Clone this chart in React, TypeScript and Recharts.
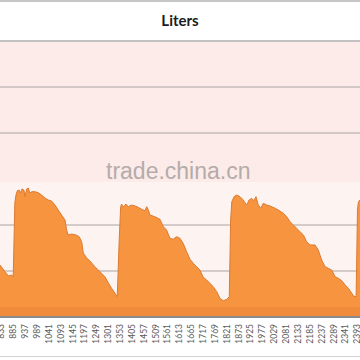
import { AreaChart, Area, XAxis, YAxis, CartesianGrid, ReferenceArea } from "recharts";

// sample number along the x axis and the tank level
const sampleIdx = [
  827, 849, 864, 878, 885, 892, 897, 903, 911, 917,
  923, 932, 936, 944, 951, 958, 966, 980, 995, 1009,
  1024, 1038, 1053, 1068, 1082, 1097, 1112, 1119, 1126, 1141,
  1160, 1174, 1185, 1192, 1207, 1221, 1243, 1265, 1287, 1303,
  1316, 1331, 1341, 1350, 1356, 1360, 1367, 1379, 1389, 1404,
  1419, 1433, 1448, 1462, 1470, 1477, 1484, 1506, 1528, 1543,
  1557, 1572, 1586, 1601, 1616, 1630, 1645, 1660, 1674, 1689,
  1703, 1718, 1733, 1747, 1762, 1777, 1791, 1806, 1821, 1832,
  1838, 1843, 1853, 1864, 1879, 1893, 1908, 1919, 1930, 1940,
  1949, 1959, 1970, 1981, 1996, 2011, 2033, 2047, 2069, 2084,
  2098, 2113, 2127, 2142, 2157, 2171, 2186, 2208, 2222, 2237,
  2252, 2266, 2281, 2296, 2310, 2325, 2340, 2354, 2369, 2376,
  2388, 2394, 2398, 2405,
];

const liters = [
  565, 492, 446, 457, 435, 1239, 1326, 1373, 1380, 1348,
  1391, 1380, 1308, 1391, 1402, 1348, 1362, 1362, 1351, 1326,
  1294, 1272, 1261, 1217, 1163, 1109, 1054, 946, 891, 902,
  891, 873, 819, 696, 641, 609, 547, 492, 438, 366,
  312, 258, 221, 873, 1199, 1228, 1192, 1228, 1199, 1217,
  1207, 1192, 1171, 1155, 1199, 1163, 1109, 1090, 1062, 982,
  946, 855, 845, 873, 855, 801, 710, 627, 584, 547,
  511, 432, 402, 366, 329, 275, 203, 177, 192, 221,
  1054, 1253, 1308, 1326, 1308, 1272, 1217, 1272, 1290, 1264,
  1308, 1217, 1182, 1236, 1217, 1207, 1182, 1163, 1127, 1090,
  1036, 1000, 964, 927, 891, 819, 783, 783, 728, 620,
  547, 529, 511, 438, 421, 395, 348, 312, 258, 228,
  221, 1163, 1253, 1272,
];

const xTicks = [
  833, 885, 937, 989, 1041, 1093, 1145, 1197, 1249, 1301, 1353,
  1405, 1457, 1509, 1561, 1613, 1665, 1717, 1769, 1821, 1873,
  1925, 1977, 2029, 2081, 2133, 2185, 2237, 2289, 2341, 2393,
];

const yTicks = [0, 500, 1000, 2000, 2500, 3000];

const data = sampleIdx.map((idx, i) => ({ idx, liters: liters[i] }));

function XTick({ x, y, payload }: { x?: number; y?: number; payload?: { value: number } }) {
  return (
    <text
      x={0}
      y={0}
      transform={`translate(${(x ?? 0) + 3},${(y ?? 0) - 1}) rotate(-90)`}
      textAnchor="end"
      fontSize={8.5}
      fontFamily="Lato, 'Open Sans', sans-serif"
      fill="#5a5a5a"
    >
      {payload?.value}
    </text>
  );
}

export default function App() {
  return (
    <div
      style={{
        position: "absolute",
        top: 0,
        left: 0,
        width: 360,
        height: 360,
        overflow: "hidden",
        background: "#fff",
      }}
    >
      <AreaChart width={360} height={360} data={data} margin={{ top: 41, right: 0, bottom: 0, left: 0 }}>
        <defs>
          <linearGradient id="plotBg" x1="0" y1="0" x2="0" y2="1">
            <stop offset="0%" stopColor="#fcebe8" />
            <stop offset="51%" stopColor="#fcebe8" />
            <stop offset="51%" stopColor="#fdf3f1" />
            <stop offset="100%" stopColor="#fdf3f1" />
          </linearGradient>
        </defs>
        <CartesianGrid vertical={false} stroke="#a8a4a4" fill="url(#plotBg)" />
        <XAxis
          dataKey="idx"
          type="number"
          domain={[827, 2405]}
          ticks={xTicks}
          interval={0}
          allowDataOverflow
          height={43}
          tickLine={false}
          axisLine={{ stroke: "#8c8c8c", strokeWidth: 2 }}
          tick={<XTick />}
        />
        <YAxis hide domain={[0, 3000]} ticks={yTicks} />
        <Area
          type="linear"
          dataKey="liters"
          stroke="#dc7b32"
          strokeWidth={1}
          fill="#f6943f"
          fillOpacity={1}
          isAnimationActive={false}
        />
        <ReferenceArea y1={0} y2={110} fill="#f08b3b" fillOpacity={1} stroke="none" />
      </AreaChart>

      <div style={{ position: "absolute", top: 0, left: 0, width: 360, height: 2, background: "#c6c6c6" }} />
      <div
        style={{
          position: "absolute",
          top: 2,
          left: 0,
          width: 360,
          height: 38,
          lineHeight: "36px",
          textAlign: "center",
          fontFamily: "Lato, sans-serif",
          fontWeight: 700,
          fontSize: 15,
          color: "#1c1c1c",
        }}
      >
        Liters
      </div>
      <div style={{ position: "absolute", top: 40, left: 0, width: 360, height: 2, background: "#c2c0c0" }} />
      <div style={{ position: "absolute", top: 356, left: 0, width: 360, height: 1, background: "#d2d2d2" }} />
      <div
        style={{
          position: "absolute",
          top: 156,
          left: 106,
          fontFamily: "'Liberation Sans', Arial, sans-serif",
          fontSize: 23,
          lineHeight: "30px",
          color: "#8f8a8a",
          opacity: 0.65,
          whiteSpace: "nowrap",
        }}
      >
        trade.china.cn
      </div>
    </div>
  );
}
